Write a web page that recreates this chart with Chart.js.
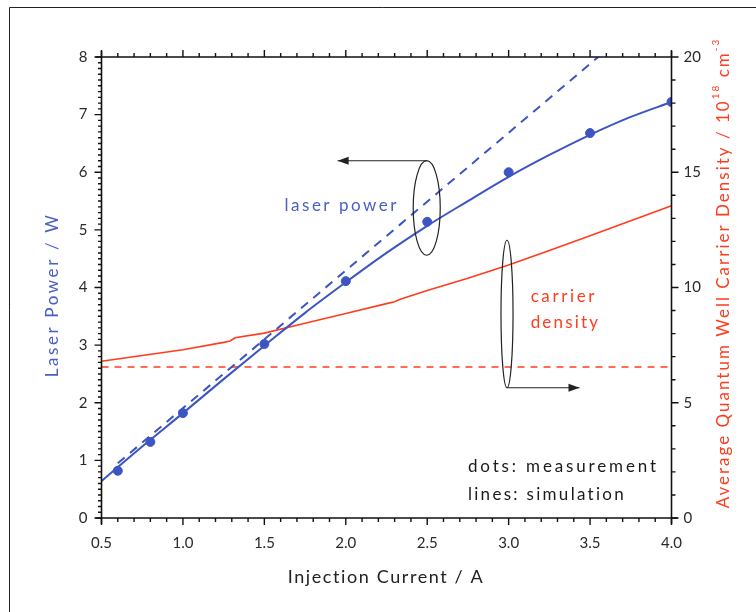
<!DOCTYPE html>
<html>
<head>
<meta charset="utf-8">
<script src="https://cdn.jsdelivr.net/npm/chart.js@4/dist/chart.umd.min.js"></script>
<style>
  html, body { margin: 0; padding: 0; background: #fff; }
  #wrap { width: 756px; height: 612px; position: relative; }
</style>
</head>
<body>
<div id="wrap"><canvas id="c" width="756" height="612"></canvas></div>
<script>
// ---- data ----
const simCurrent = [0.5, 0.75, 1.0, 1.25, 1.5, 1.75, 2.0, 2.25, 2.5, 2.75, 3.0, 3.25, 3.5, 3.75, 4.0];
const simPower   = [0.64, 1.24, 1.82, 2.41, 2.99, 3.56, 4.09, 4.6, 5.07, 5.5, 5.92, 6.3, 6.65, 6.96, 7.22];

const measCurrent = [0.6, 0.8, 1.0, 1.5, 2.0, 2.5, 3.0, 3.5, 4.0];
const measPower   = [0.82, 1.32, 1.82, 3.02, 4.11, 5.14, 6.0, 6.68, 7.22];

const linCurrent = [0.6, 3.55];
const linPower   = [0.95, 8.0];

const densCurrent = [0.5, 0.75, 1.0, 1.25, 1.29, 1.32, 1.5, 1.75, 2.0, 2.25, 2.3, 2.33, 2.5, 2.75, 3.0, 3.25, 3.5, 3.75, 4.0];
const densValues  = [6.8, 7.05, 7.3, 7.62, 7.68, 7.82, 8.02, 8.45, 8.87, 9.3, 9.38, 9.48, 9.87, 10.4, 10.98, 11.6, 12.25, 12.9, 13.55];

const thrCurrent = [0.5, 4.0];
const thrDensity = [6.55, 6.55];

const xTickLabels = ['0.5', '1.0', '1.5', '2.0', '2.5', '3.0', '3.5', '4.0'];

const BLUE = '#3d55c2';
const BLUE_TXT = '#4a60c4';
const RED = '#ff3c1e';
const FONT = 'Lato';

function pts(xs, ys) { return xs.map((x, i) => ({ x: x, y: ys[i] })); }

function spacedText(ctx, text, x, y, size, spacing) {
  ctx.font = size + 'px ' + FONT;
  ctx.letterSpacing = spacing + 'px';
  ctx.fillText(text, x, y);
  ctx.letterSpacing = '0px';
}

const decor = {
  id: 'decor',
  afterDraw(chart) {
    const ctx = chart.ctx;
    const xs = chart.scales.x, yl = chart.scales.y, yr = chart.scales.y2;
    const L = xs.getPixelForValue(0.5), R = xs.getPixelForValue(4.0);
    const T = yl.getPixelForValue(8), B = yl.getPixelForValue(0);
    ctx.save();
    ctx.strokeStyle = '#222'; ctx.lineWidth = 1;
    ctx.beginPath(); ctx.moveTo(9.5, 612); ctx.lineTo(9.5, 7.5); ctx.lineTo(756, 7.5); ctx.stroke();

    ctx.strokeStyle = '#111'; ctx.lineWidth = 1.6;
    ctx.beginPath();
    ctx.moveTo(L - 6, T); ctx.lineTo(R, T);
    ctx.moveTo(L, T - 6); ctx.lineTo(L, B + 6);
    ctx.moveTo(L - 6, B); ctx.lineTo(R + 6, B);
    ctx.moveTo(R, T - 6); ctx.lineTo(R, B + 6);
    ctx.stroke();

    ctx.lineWidth = 1.4;
    ctx.beginPath();
    for (let k = 5; k <= 40; k++) {
      const px = xs.getPixelForValue(k / 10);
      const len = (k % 5 === 0) ? 7 : 4;
      ctx.moveTo(px, B); ctx.lineTo(px, B + len);
      ctx.moveTo(px, T); ctx.lineTo(px, T - len);
    }
    for (let k = 0; k <= 80; k++) {
      const py = yl.getPixelForValue(k / 10);
      const len = (k % 10 === 0) ? 7 : 3.5;
      ctx.moveTo(L, py); ctx.lineTo(L - len, py);
    }
    for (let k = 0; k <= 20; k++) {
      const py = yr.getPixelForValue(k);
      const len = (k % 5 === 0) ? 7 : 4;
      ctx.moveTo(R, py); ctx.lineTo(R + len, py);
    }
    ctx.stroke();

    ctx.textBaseline = 'middle';
    ctx.fillStyle = '#222';
    ctx.textAlign = 'center';
    spacedText(ctx, 'Injection Current / A', 386, 577, 18, 1.6);

    ctx.save();
    ctx.translate(53, 295);
    ctx.rotate(-Math.PI / 2);
    ctx.fillStyle = BLUE_TXT;
    ctx.textAlign = 'center';
    spacedText(ctx, 'Laser Power / W', 0, 0, 17, 2.6);
    ctx.restore();

    ctx.save();
    ctx.translate(724, 273);
    ctx.rotate(-Math.PI / 2);
    ctx.fillStyle = RED;
    const parts = [
      { t: 'Average Quantum Well Carrier Density / 10', sup: false },
      { t: '18', sup: true },
      { t: ' cm', sup: false },
      { t: '-3', sup: true }
    ];
    const mainFont = '17px ' + FONT, supFont = '10px ' + FONT;
    ctx.letterSpacing = '2px';
    let total = 0;
    parts.forEach(p => { ctx.font = p.sup ? supFont : mainFont; p.w = ctx.measureText(p.t).width; total += p.w; });
    let cx = -total / 2;
    ctx.textAlign = 'left';
    parts.forEach(p => {
      ctx.font = p.sup ? supFont : mainFont;
      ctx.fillText(p.t, cx, p.sup ? -8 : 0);
      cx += p.w;
    });
    ctx.letterSpacing = '0px';
    ctx.restore();

    ctx.fillStyle = BLUE_TXT; ctx.textAlign = 'center';
    spacedText(ctx, 'laser power', xs.getPixelForValue(1.975), yl.getPixelForValue(5.42), 17, 2.5);
    ctx.fillStyle = RED; ctx.textAlign = 'left';
    spacedText(ctx, 'carrier', xs.getPixelForValue(3.135), yr.getPixelForValue(9.6), 17, 2.6);
    spacedText(ctx, 'density', xs.getPixelForValue(3.135), yr.getPixelForValue(8.46), 17, 2.2);
    ctx.fillStyle = '#1a1a1a';
    spacedText(ctx, 'dots: measurement', xs.getPixelForValue(2.75), yl.getPixelForValue(0.885), 17, 2.85);
    spacedText(ctx, 'lines: simulation', xs.getPixelForValue(2.75), yl.getPixelForValue(0.415), 17, 2.3);

    ctx.strokeStyle = '#222'; ctx.fillStyle = '#222'; ctx.lineWidth = 1.2;
    function ellipse(cxv, cyv, rxv, ryv, ys) {
      const ex = xs.getPixelForValue(cxv), ey = ys.getPixelForValue(cyv);
      const erx = xs.getPixelForValue(cxv + rxv) - ex;
      const ery = ys.getPixelForValue(cyv - ryv) - ey;
      ctx.beginPath(); ctx.ellipse(ex, ey, erx, ery, 0, 0, Math.PI * 2); ctx.stroke();
      return { ex, ey, erx, ery };
    }
    function arrow(x1, y1, x2, y2) {
      ctx.beginPath(); ctx.moveTo(x1, y1); ctx.lineTo(x2, y2); ctx.stroke();
      const dir = Math.sign(x2 - x1);
      ctx.beginPath();
      ctx.moveTo(x2, y2); ctx.lineTo(x2 - dir * 11, y2 - 4); ctx.lineTo(x2 - dir * 11, y2 + 4); ctx.closePath(); ctx.fill();
    }
    const e1 = ellipse(2.497, 5.38, 0.083, 0.82, yl);
    arrow(e1.ex, e1.ey - e1.ery, xs.getPixelForValue(1.95), e1.ey - e1.ery);
    const e2 = ellipse(2.99, 8.85, 0.037, 3.2, yr);
    arrow(e2.ex, e2.ey + e2.ery, xs.getPixelForValue(3.435), e2.ey + e2.ery);

    ctx.restore();
  }
};

const tickFont = { family: FONT, size: 15 };

new Chart(document.getElementById('c'), {
  type: 'line',
  data: {
    datasets: [
      { label: 'sim power', data: pts(simCurrent, simPower), yAxisID: 'y', borderColor: BLUE, borderWidth: 2, pointRadius: 0, cubicInterpolationMode: 'monotone', fill: false },
      { label: 'linear', data: pts(linCurrent, linPower), yAxisID: 'y', borderColor: BLUE, borderWidth: 2, borderDash: [9, 7], pointRadius: 0, fill: false },
      { label: 'measured', data: pts(measCurrent, measPower), yAxisID: 'y', showLine: false, pointRadius: 4.5, pointBackgroundColor: BLUE, pointBorderColor: BLUE, borderColor: BLUE },
      { label: 'density', data: pts(densCurrent, densValues), yAxisID: 'y2', borderColor: RED, borderWidth: 1.6, pointRadius: 0, tension: 0, fill: false },
      { label: 'threshold', data: pts(thrCurrent, thrDensity), yAxisID: 'y2', borderColor: RED, borderWidth: 1.6, borderDash: [7, 6], pointRadius: 0, fill: false }
    ]
  },
  options: {
    responsive: false,
    animation: false,
    devicePixelRatio: 1,
    layout: { padding: { top: 57, left: 0, right: 0, bottom: 0 } },
    plugins: { legend: { display: false }, tooltip: { enabled: false } },
    scales: {
      x: {
        type: 'linear', min: 0.5, max: 4.0,
        afterFit(s) { s.height = 94; },
        grid: { display: false, drawTicks: false },
        border: { display: false },
        ticks: { stepSize: 0.5, padding: 16, color: '#2a2a2a', font: tickFont,
          callback: (v) => { const i = Math.round((v - 0.5) / 0.5); return xTickLabels[i] !== undefined ? xTickLabels[i] : ''; } }
      },
      y: {
        type: 'linear', position: 'left', min: 0, max: 8,
        afterFit(s) { s.width = 101.5; },
        grid: { display: false, drawTicks: false },
        border: { display: false },
        ticks: { stepSize: 1, padding: 14, color: '#2a2a2a', font: tickFont }
      },
      y2: {
        type: 'linear', position: 'right', min: 0, max: 20,
        afterFit(s) { s.width = 84.5; },
        grid: { display: false, drawTicks: false },
        border: { display: false },
        ticks: { stepSize: 5, padding: 12, color: '#2a2a2a', font: tickFont }
      }
    }
  },
  plugins: [decor]
});
</script>
</body>
</html>
